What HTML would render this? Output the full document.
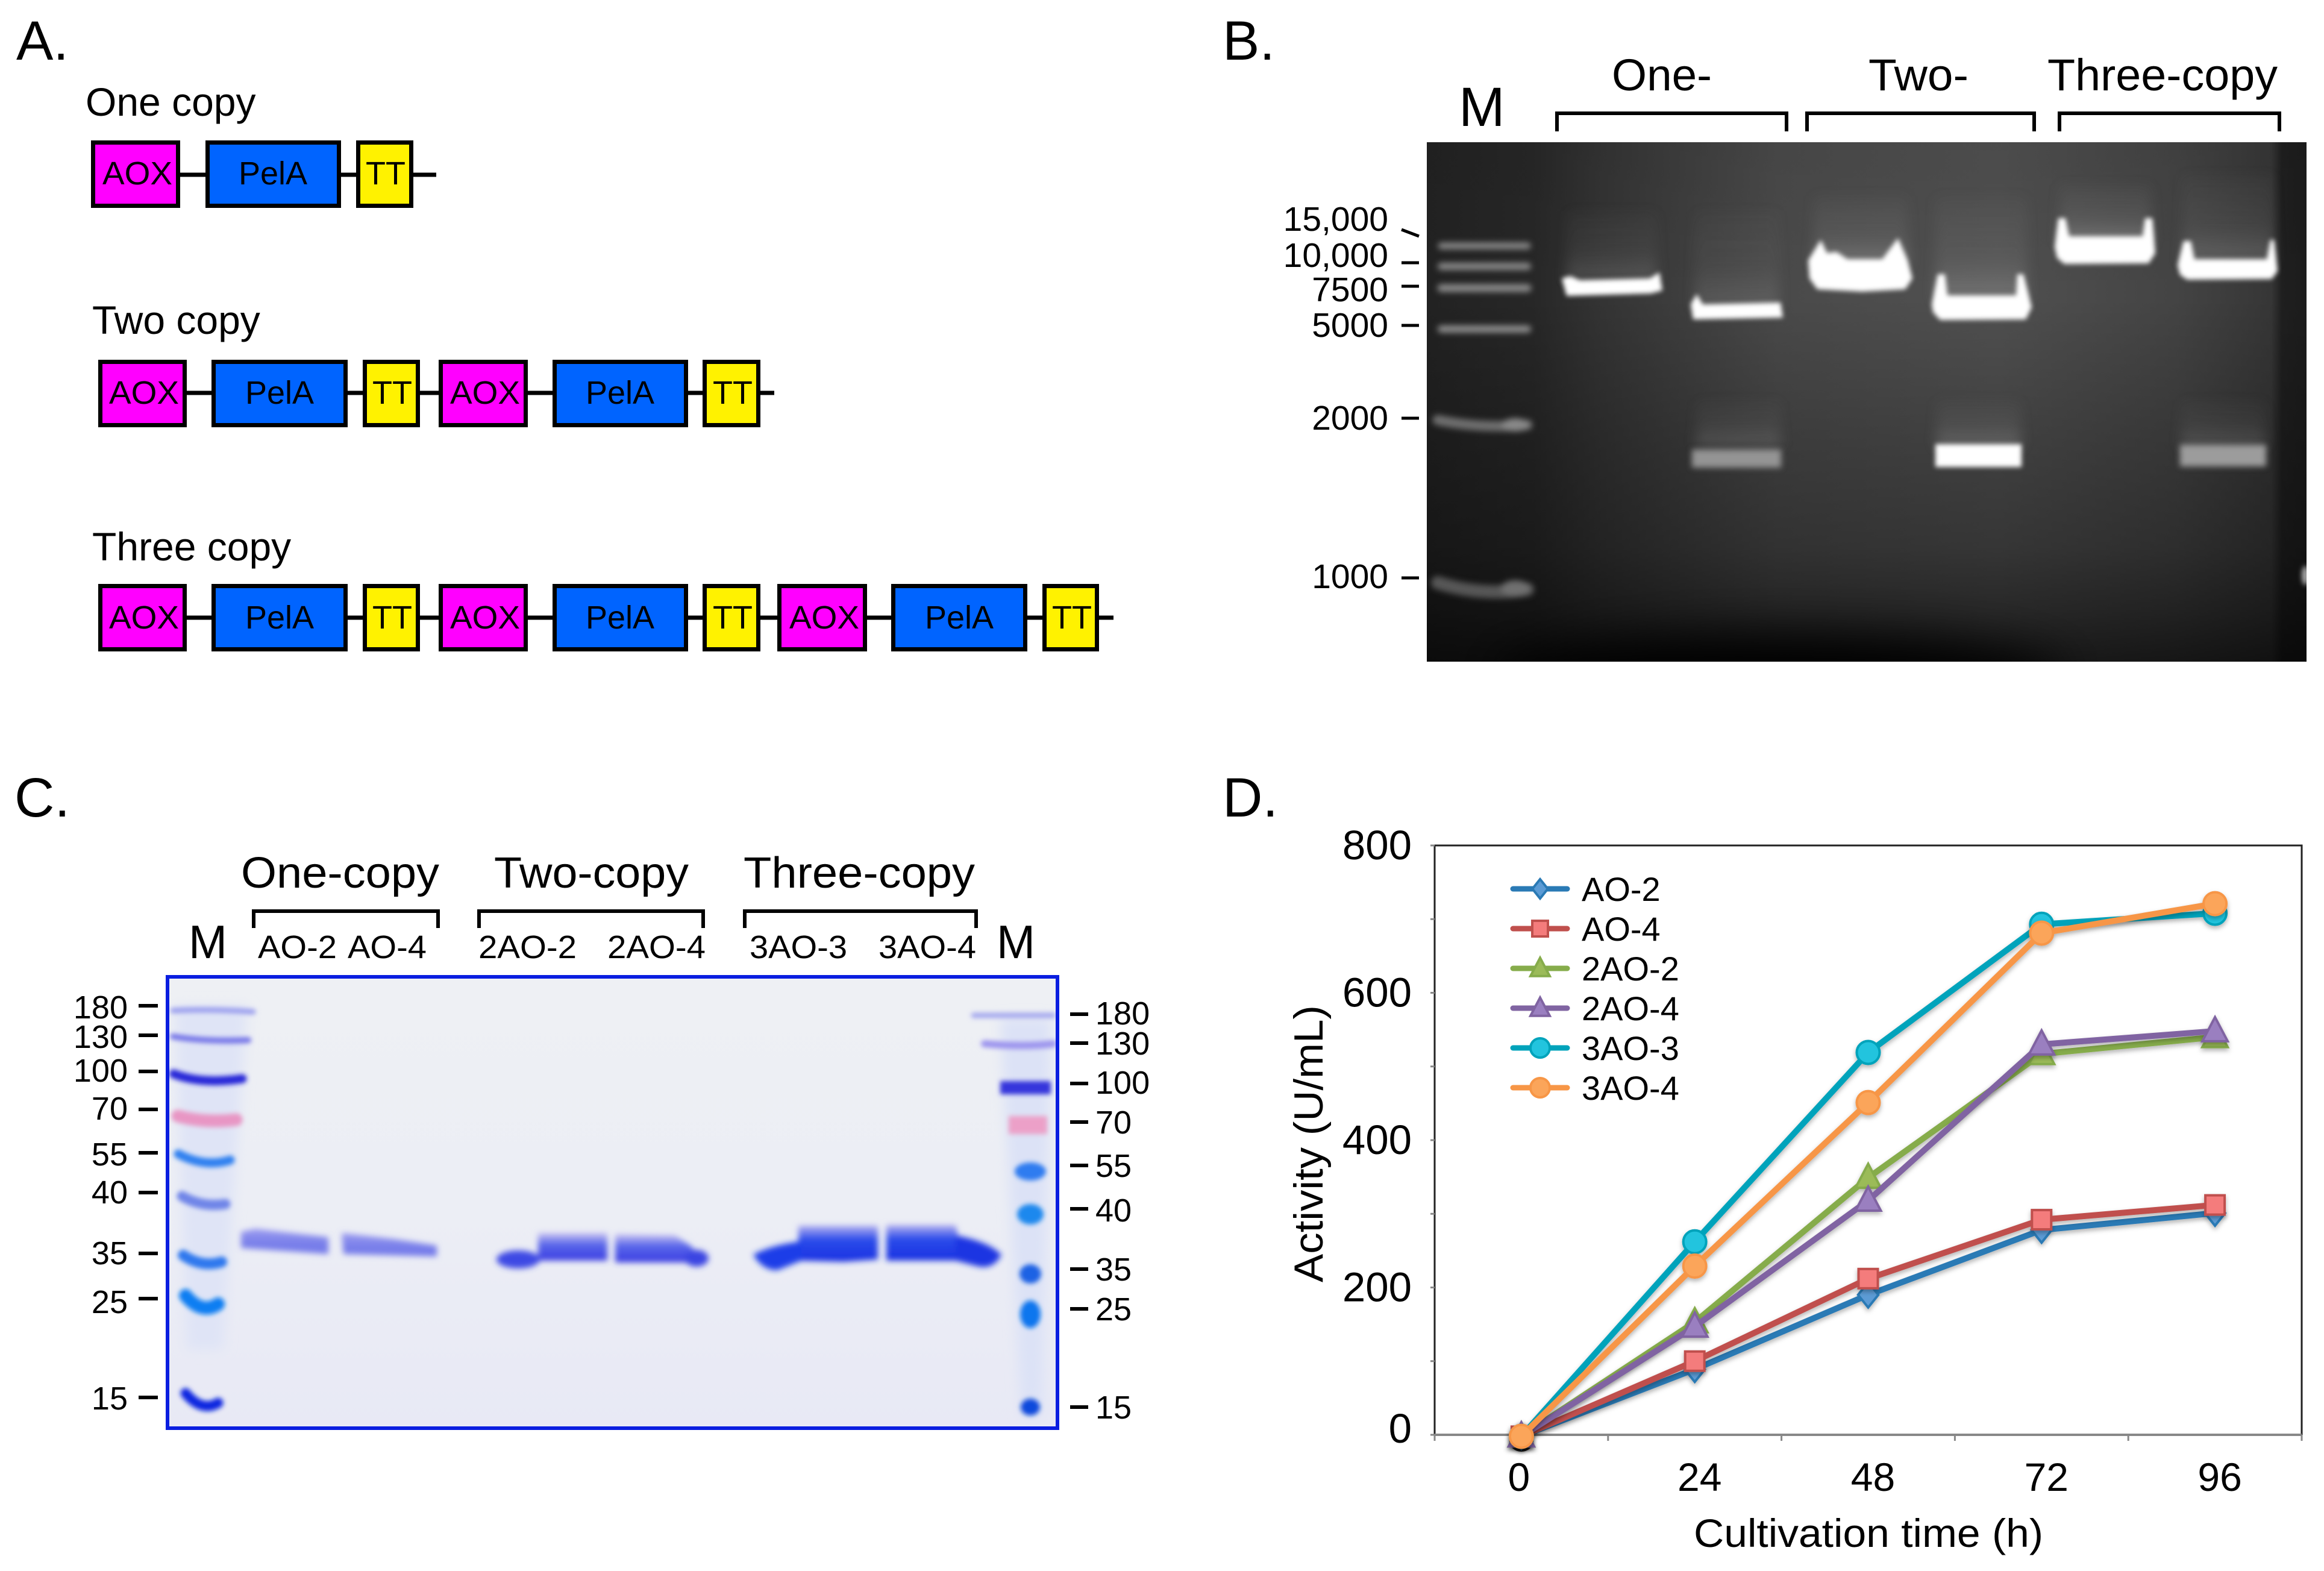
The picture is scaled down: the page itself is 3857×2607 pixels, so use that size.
<!DOCTYPE html>
<html lang="en">
<head>
<meta charset="utf-8">
<title>PelA copy number constructs, gels and activity</title>
<style>
html,body{margin:0;padding:0;background:#fff;width:3857px;height:2607px;overflow:hidden}
svg{display:block}
text{font-family:"Liberation Sans",Arial,sans-serif;fill:#000}
.blk{stroke:#000;stroke-width:7;fill:none}
.aox{fill:#ff00ff;stroke:#000;stroke-width:7}
.pel{fill:#0064ff;stroke:#000;stroke-width:7}
.tt{fill:#fff200;stroke:#000;stroke-width:7}
.c{font-size:54px;text-anchor:middle}
.pl{font-size:92px}
.t{font-size:66px}
.br{stroke:#000;stroke-width:6;fill:none}
.tk{stroke:#000;stroke-width:5;fill:none}
.tk2{stroke:#000;stroke-width:6;fill:none}
.gb{font-size:57px;text-anchor:end}
.cl{font-size:54px;text-anchor:end}
.cr{font-size:54px;text-anchor:start}
.lane{font-size:54px}
.lad{fill:none;stroke-linecap:round}
</style>
</head>
<body>
<svg id="fig" xmlns="http://www.w3.org/2000/svg" width="3857" height="2607" viewBox="0 0 3857 2607">
<defs>
  <linearGradient id="gelBh" x1="0" y1="0" x2="1" y2="0">
    <stop offset="0" stop-color="#222"/><stop offset=".12" stop-color="#272727"/>
    <stop offset=".2" stop-color="#343434"/><stop offset=".4" stop-color="#4a4a4a"/>
    <stop offset=".65" stop-color="#505050"/><stop offset=".85" stop-color="#444"/>
    <stop offset=".96" stop-color="#363636"/><stop offset=".972" stop-color="#1f1f1f"/>
    <stop offset="1" stop-color="#1c1c1c"/>
  </linearGradient>
  <linearGradient id="gelBv" x1="0" y1="0" x2="0" y2="1">
    <stop offset="0" stop-color="#000" stop-opacity=".06"/><stop offset=".3" stop-color="#000" stop-opacity="0"/>
    <stop offset=".55" stop-color="#000" stop-opacity=".18"/><stop offset=".78" stop-color="#000" stop-opacity=".33"/>
    <stop offset=".9" stop-color="#000" stop-opacity=".5"/><stop offset="1" stop-color="#000" stop-opacity=".68"/>
  </linearGradient>
  <linearGradient id="gelC" x1="0" y1="0" x2="0" y2="1">
    <stop offset="0" stop-color="#eef0f4"/><stop offset=".5" stop-color="#eceef5"/>
    <stop offset="1" stop-color="#e8e9f5"/>
  </linearGradient>
  <linearGradient id="smear" x1="0" y1="0" x2="0" y2="1">
    <stop offset="0" stop-color="#aaa" stop-opacity=".05"/><stop offset=".6" stop-color="#aaa" stop-opacity=".16"/>
    <stop offset="1" stop-color="#bbb" stop-opacity=".42"/>
  </linearGradient>
  <linearGradient id="bandLight" x1="0" y1="0" x2="0" y2="1">
    <stop offset="0" stop-color="#9c9cf0"/><stop offset=".5" stop-color="#7c82ea"/><stop offset="1" stop-color="#7076ea"/>
  </linearGradient>
  <linearGradient id="bandMid" x1="0" y1="0" x2="0" y2="1">
    <stop offset="0" stop-color="#cbc4f2"/><stop offset=".4" stop-color="#5a68ea"/><stop offset="1" stop-color="#3a3ce2"/>
  </linearGradient>
  <linearGradient id="bandDeep" x1="0" y1="0" x2="0" y2="1">
    <stop offset="0" stop-color="#b4b0f0"/><stop offset=".38" stop-color="#2a4cea"/><stop offset="1" stop-color="#1a30e2"/>
  </linearGradient>
  <filter id="b3" filterUnits="userSpaceOnUse" x="0" y="0" width="3857" height="2607"><feGaussianBlur stdDeviation="4"/></filter>
  <filter id="b5" filterUnits="userSpaceOnUse" x="0" y="0" width="3857" height="2607"><feGaussianBlur stdDeviation="5"/></filter>
  <filter id="b10" filterUnits="userSpaceOnUse" x="0" y="0" width="3857" height="2607"><feGaussianBlur stdDeviation="10"/></filter>
  <filter id="b40" filterUnits="userSpaceOnUse" x="0" y="0" width="3857" height="2607"><feGaussianBlur stdDeviation="40"/></filter>
  <filter id="sh" filterUnits="userSpaceOnUse" x="2300" y="1300" width="1557" height="1200"><feDropShadow dx="0" dy="4" stdDeviation="4" flood-color="#000" flood-opacity=".3"/></filter>
  <clipPath id="clipB"><rect x="2368" y="236" width="1460" height="862"/></clipPath>
  <clipPath id="clipC"><rect x="279" y="1622" width="1475" height="746"/></clipPath>
</defs>

<!-- Panel A -->
<g>
  <text x="27" y="99" class="pl">A.</text>
  <text x="142" y="192" class="t">One copy</text>
  <text x="153" y="554" class="t">Two copy</text>
  <text x="153" y="930" class="t">Three copy</text>

  <line x1="299" y1="290" x2="724" y2="290" class="blk"/>
  <g><rect x="154.500" y="236.500" width="141" height="105" class="aox"/><text x="228" y="306" class="c" textLength="116" lengthAdjust="spacingAndGlyphs">AOX</text></g>
  <g><rect x="344.500" y="236.500" width="218" height="105" class="pel"/><text x="453" y="306" class="c">PelA</text></g>
  <g><rect x="594.500" y="236.500" width="88" height="105" class="tt"/><text x="640" y="306" class="c">TT</text></g>

  <line x1="310" y1="652" x2="1285" y2="652" class="blk"/>
  <g><rect x="166.500" y="600.500" width="140" height="105" class="aox"/><text x="239" y="670" class="c" textLength="116" lengthAdjust="spacingAndGlyphs">AOX</text></g>
  <g><rect x="354.500" y="600.500" width="219" height="105" class="pel"/><text x="464" y="670" class="c">PelA</text></g>
  <g><rect x="605.500" y="600.500" width="88" height="105" class="tt"/><text x="651" y="670" class="c">TT</text></g>
  <g><rect x="731.500" y="600.500" width="141" height="105" class="aox"/><text x="805" y="670" class="c" textLength="116" lengthAdjust="spacingAndGlyphs">AOX</text></g>
  <g><rect x="920.500" y="600.500" width="218" height="105" class="pel"/><text x="1029" y="670" class="c">PelA</text></g>
  <g><rect x="1169.500" y="600.500" width="89" height="105" class="tt"/><text x="1216" y="670" class="c">TT</text></g>

  <line x1="310" y1="1025" x2="1848" y2="1025" class="blk"/>
  <g><rect x="166.500" y="972.500" width="140" height="105" class="aox"/><text x="239" y="1043" class="c" textLength="116" lengthAdjust="spacingAndGlyphs">AOX</text></g>
  <g><rect x="354.500" y="972.500" width="219" height="105" class="pel"/><text x="464" y="1043" class="c">PelA</text></g>
  <g><rect x="605.500" y="972.500" width="88" height="105" class="tt"/><text x="651" y="1043" class="c">TT</text></g>
  <g><rect x="731.500" y="972.500" width="141" height="105" class="aox"/><text x="805" y="1043" class="c" textLength="116" lengthAdjust="spacingAndGlyphs">AOX</text></g>
  <g><rect x="920.500" y="972.500" width="218" height="105" class="pel"/><text x="1029" y="1043" class="c">PelA</text></g>
  <g><rect x="1169.500" y="972.500" width="89" height="105" class="tt"/><text x="1216" y="1043" class="c">TT</text></g>
  <g><rect x="1293.500" y="972.500" width="142" height="105" class="aox"/><text x="1368" y="1043" class="c" textLength="116" lengthAdjust="spacingAndGlyphs">AOX</text></g>
  <g><rect x="1482.500" y="972.500" width="219" height="105" class="pel"/><text x="1592" y="1043" class="c">PelA</text></g>
  <g><rect x="1733.500" y="972.500" width="87" height="105" class="tt"/><text x="1779" y="1043" class="c">TT</text></g>
</g>

<!-- Panel B -->
<g>
  <text x="2029" y="99" class="pl">B.</text>
  <text x="2421" y="209" font-size="92">M</text>
  <text x="2675" y="150" font-size="74" textLength="166" lengthAdjust="spacingAndGlyphs">One-</text>
  <text x="3101" y="150" font-size="74" textLength="166" lengthAdjust="spacingAndGlyphs">Two-</text>
  <text x="3398" y="150" font-size="74" textLength="382" lengthAdjust="spacingAndGlyphs">Three-copy</text>
  <path d="M2584 218V188H2965V218" class="br"/>
  <path d="M2999 218V188H3376V218" class="br"/>
  <path d="M3418 218V188H3783V218" class="br"/>

  <text x="2304" y="383" class="gb">15,000</text>
  <text x="2304" y="443" class="gb">10,000</text>
  <text x="2304" y="500" class="gb">7500</text>
  <text x="2304" y="559" class="gb">5000</text>
  <text x="2304" y="713" class="gb">2000</text>
  <text x="2304" y="976" class="gb">1000</text>
  <g class="tk">
    <line x1="2326" y1="381" x2="2355" y2="392"/>
    <line x1="2326" y1="436" x2="2355" y2="436"/>
    <line x1="2326" y1="475" x2="2355" y2="475"/>
    <line x1="2326" y1="540" x2="2355" y2="540"/>
    <line x1="2326" y1="694" x2="2355" y2="694"/>
    <line x1="2326" y1="959" x2="2355" y2="959"/>
  </g>

  <g clip-path="url(#clipB)">
    <rect x="2368" y="236" width="1460" height="862" fill="url(#gelBh)"/>
    <rect x="2368" y="236" width="1460" height="862" fill="url(#gelBv)"/>
    <ellipse cx="2950" cy="1125" rx="480" ry="70" fill="#000" filter="url(#b40)"/>
    <g filter="url(#b5)">
      <path d="M2392 408H2535" class="lad" stroke="#888" stroke-width="11"/>
      <path d="M2392 442H2535" class="lad" stroke="#888" stroke-width="12"/>
      <path d="M2392 478H2535" class="lad" stroke="#888" stroke-width="13"/>
      <path d="M2392 546H2535" class="lad" stroke="#8c8c8c" stroke-width="12"/>
      <path d="M2386 697Q2460 712 2535 705" class="lad" stroke="#6e6e6e" stroke-width="17"/>
      <path d="M2386 967Q2460 990 2535 978" class="lad" stroke="#565656" stroke-width="22"/>
      <ellipse cx="2515" cy="705" rx="22" ry="11" fill="#888"/>
      <ellipse cx="2515" cy="976" rx="24" ry="13" fill="#707070"/>
    </g>
    <g filter="url(#b10)">
      <rect x="2600" y="350" width="150" height="115" fill="url(#smear)" opacity=".55"/>
      <rect x="2812" y="350" width="140" height="160" fill="url(#smear)" opacity=".5"/>
      <rect x="3010" y="325" width="156" height="115" fill="url(#smear)" opacity=".9"/>
      <rect x="3212" y="327" width="152" height="170" fill="url(#smear)" opacity=".8"/>
      <rect x="3418" y="307" width="152" height="95" fill="url(#smear)" opacity="1"/>
      <rect x="3622" y="290" width="152" height="145" fill="url(#smear)" opacity=".7"/>
      <rect x="2815" y="665" width="140" height="75" fill="url(#smear)" opacity=".6"/>
      <rect x="3214" y="665" width="140" height="75" fill="url(#smear)" opacity=".8"/>
      <rect x="3620" y="665" width="140" height="75" fill="url(#smear)" opacity=".6"/>
    </g>
    <g filter="url(#b3)">
      <path d="M2592 462L2606 458L2622 465L2738 462L2754 452L2759 482L2740 487L2600 491Z" fill="#fff"/>
      <path d="M2806 505L2816 488L2826 505L2955 502L2959 527L2810 530Z" fill="#fff"/>
      <path d="M3001 432L3022 398L3032 420L3048 418L3066 430L3124 430L3150 395L3166 432L3174 462L3162 480L3090 484L3016 480L3003 462Z" fill="#fff"/>
      <path d="M3206 505L3216 455L3228 455L3232 490L3346 490L3348 455L3358 455L3372 510L3362 530L3220 531L3208 518Z" fill="#fff"/>
      <path d="M3410 410L3416 362L3428 362L3434 392L3556 392L3560 362L3572 362L3577 420L3566 437L3426 438L3414 428Z" fill="#fff"/>
      <path d="M3614 440L3624 400L3636 400L3642 430L3762 430L3768 398L3774 398L3780 450L3770 463L3630 464L3618 456Z" fill="#fff"/>
      <rect x="3212" y="737" width="143" height="38" fill="#fff"/>
    </g>
    <g filter="url(#b5)">
      <rect x="2808" y="746" width="148" height="30" fill="#949494"/>
      <rect x="3618" y="738" width="143" height="36" fill="#9c9c9c"/>
    </g>
    <ellipse cx="3826" cy="955" rx="6" ry="16" fill="#aaa" filter="url(#b3)"/>
  </g>
</g>

<!-- Panel C -->
<g>
  <text x="24" y="1355" class="pl">C.</text>
  <text x="400" y="1473" font-size="72" textLength="329" lengthAdjust="spacingAndGlyphs">One-copy</text>
  <text x="820" y="1473" font-size="72" textLength="323" lengthAdjust="spacingAndGlyphs">Two-copy</text>
  <text x="1234" y="1473" font-size="72" textLength="384" lengthAdjust="spacingAndGlyphs">Three-copy</text>
  <path d="M421 1540V1512H727V1540" class="br"/>
  <path d="M795 1540V1512H1167V1540" class="br"/>
  <path d="M1236 1540V1512H1620V1540" class="br"/>
  <text x="313" y="1590" font-size="78" textLength="64" lengthAdjust="spacingAndGlyphs">M</text>
  <text x="1654" y="1590" font-size="78" textLength="64" lengthAdjust="spacingAndGlyphs">M</text>
  <text x="428" y="1590" class="lane" textLength="131" lengthAdjust="spacingAndGlyphs">AO-2</text>
  <text x="577" y="1590" class="lane" textLength="131" lengthAdjust="spacingAndGlyphs">AO-4</text>
  <text x="794" y="1590" class="lane" textLength="163" lengthAdjust="spacingAndGlyphs">2AO-2</text>
  <text x="1008" y="1590" class="lane" textLength="163" lengthAdjust="spacingAndGlyphs">2AO-4</text>
  <text x="1244" y="1590" class="lane" textLength="162" lengthAdjust="spacingAndGlyphs">3AO-3</text>
  <text x="1458" y="1590" class="lane" textLength="162" lengthAdjust="spacingAndGlyphs">3AO-4</text>

  <g clip-path="url(#clipC)">
    <rect x="276" y="1619" width="1481" height="753" fill="url(#gelC)"/>
    <g filter="url(#b10)">
      <path d="M290 1670H410L370 2240H310Z" fill="#dfe4f6"/>
      <path d="M1660 1690H1745L1730 2350H1695Z" fill="#dce2f6"/>
    </g>
    <g filter="url(#b3)">
      <path d="M287 1677Q350 1674 420 1679" class="lad" stroke="#9a9eee" stroke-width="9"/>
      <path d="M287 1720Q340 1729 412 1726" class="lad" stroke="#7676e8" stroke-width="10"/>
      <path d="M288 1782Q335 1800 402 1790" class="lad" stroke="#2828d8" stroke-width="15"/>
      <path d="M295 1852Q340 1864 392 1858" class="lad" stroke="#e896c4" stroke-width="21"/>
      <path d="M296 1915Q340 1938 382 1925" class="lad" stroke="#2e80f0" stroke-width="15"/>
      <path d="M302 1985Q335 2004 374 1998" class="lad" stroke="#6f85e8" stroke-width="17"/>
      <path d="M304 2083Q335 2104 368 2094" class="lad" stroke="#2f78ee" stroke-width="18"/>
      <path d="M308 2150Q335 2182 362 2164" class="lad" stroke="#0c7ef2" stroke-width="22"/>
      <path d="M308 2312Q335 2344 362 2328" class="lad" stroke="#0a28e0" stroke-width="17"/>
    </g>
    <g filter="url(#b3)">
      <path d="M1616 1685H1748" class="lad" stroke="#a4a8ee" stroke-width="9"/>
      <path d="M1634 1732Q1700 1738 1748 1732" class="lad" stroke="#9c94ee" stroke-width="12"/>
      <rect x="1660" y="1794" width="84" height="22" fill="#3434dc"/>
      <rect x="1674" y="1852" width="64" height="30" fill="#eca0c8"/>
      <ellipse cx="1710" cy="1944" rx="26" ry="15" fill="#2f7cf0"/>
      <ellipse cx="1710" cy="2015" rx="22" ry="17" fill="#1c88ee"/>
      <ellipse cx="1710" cy="2114" rx="18" ry="16" fill="#1a62e4"/>
      <ellipse cx="1710" cy="2181" rx="17" ry="23" fill="#0c76ee"/>
      <ellipse cx="1710" cy="2335" rx="16" ry="14" fill="#0f48dc"/>
    </g>
    <g filter="url(#b5)">
      <path d="M400 2044L424 2039L545 2053L545 2081L400 2071Z" fill="url(#bandLight)"/>
      <path d="M567 2046L654 2056L725 2067L725 2085L570 2081Z" fill="url(#bandLight)"/>
      <path d="M893 2046L1008 2046L1008 2092L893 2092Z" fill="url(#bandMid)"/>
      <path d="M1021 2048L1120 2050L1150 2070L1150 2095L1021 2095Z" fill="url(#bandMid)"/>
      <path d="M1325 2034L1457 2034L1457 2090L1400 2094L1325 2092Z" fill="url(#bandDeep)"/>
      <path d="M1471 2033L1586 2033L1600 2092L1471 2092Z" fill="url(#bandDeep)"/>
      <ellipse cx="860" cy="2090" rx="36" ry="15" fill="#3e48e4"/>
      <ellipse cx="1156" cy="2088" rx="20" ry="14" fill="#3a44e2"/>
      <path d="M1250 2082Q1280 2066 1330 2060L1330 2092L1290 2108Q1265 2108 1250 2082Z" fill="#1a3ee8"/>
      <path d="M1586 2050Q1640 2060 1662 2082Q1650 2106 1625 2102L1586 2092Z" fill="#1c36e2"/>
    </g>
  </g>
  <rect x="278" y="1621" width="1477" height="749" fill="none" stroke="#0a1ee0" stroke-width="6"/>

  <g>
    <text x="212" y="1690" class="cl">180</text>
    <text x="212" y="1739" class="cl">130</text>
    <text x="212" y="1795" class="cl">100</text>
    <text x="212" y="1858" class="cl">70</text>
    <text x="212" y="1934" class="cl">55</text>
    <text x="212" y="1997" class="cl">40</text>
    <text x="212" y="2098" class="cl">35</text>
    <text x="212" y="2179" class="cl">25</text>
    <text x="212" y="2339" class="cl">15</text>
  </g>
  <g class="tk2">
    <line x1="230" y1="1669" x2="262" y2="1669"/><line x1="230" y1="1718" x2="262" y2="1718"/>
    <line x1="230" y1="1778" x2="262" y2="1778"/><line x1="230" y1="1841" x2="262" y2="1841"/>
    <line x1="230" y1="1913" x2="262" y2="1913"/><line x1="230" y1="1979" x2="262" y2="1979"/>
    <line x1="230" y1="2080" x2="262" y2="2080"/><line x1="230" y1="2155" x2="262" y2="2155"/>
    <line x1="230" y1="2319" x2="262" y2="2319"/>
  </g>
  <g>
    <text x="1818" y="1700" class="cr">180</text>
    <text x="1818" y="1750" class="cr">130</text>
    <text x="1818" y="1815" class="cr">100</text>
    <text x="1818" y="1881" class="cr">70</text>
    <text x="1818" y="1953" class="cr">55</text>
    <text x="1818" y="2027" class="cr">40</text>
    <text x="1818" y="2125" class="cr">35</text>
    <text x="1818" y="2191" class="cr">25</text>
    <text x="1818" y="2354" class="cr">15</text>
  </g>
  <g class="tk2">
    <line x1="1776" y1="1683" x2="1806" y2="1683"/><line x1="1776" y1="1731" x2="1806" y2="1731"/>
    <line x1="1776" y1="1798" x2="1806" y2="1798"/><line x1="1776" y1="1862" x2="1806" y2="1862"/>
    <line x1="1776" y1="1934" x2="1806" y2="1934"/><line x1="1776" y1="2006" x2="1806" y2="2006"/>
    <line x1="1776" y1="2106" x2="1806" y2="2106"/><line x1="1776" y1="2172" x2="1806" y2="2172"/>
    <line x1="1776" y1="2335" x2="1806" y2="2335"/>
  </g>
</g>

<!-- Panel D -->
<g id="panelD">
  <text x="2029" y="1355" class="pl">D.</text>
  <rect x="2381" y="1403" width="1439" height="978" fill="#fff" stroke="#222" stroke-width="3"/>
  <line x1="2381" y1="2381" x2="3820" y2="2381" stroke="#888" stroke-width="4"/>
  <text x="3101" y="2567" font-size="66" text-anchor="middle" textLength="580" lengthAdjust="spacingAndGlyphs">Cultivation time (h)</text>
  <text transform="translate(2195,2128) rotate(-90)" font-size="68" textLength="460" lengthAdjust="spacingAndGlyphs">Activity (U/mL)</text>
  <g id="chartAxes"></g>
  <g id="chartSeries"></g>
  <g id="chartLegend"></g>
</g>
</svg>

<script>
const categories = ["0", "24", "48", "72", "96"];
const yTickValues = [0, 200, 400, 600, 800];
const seriesNames = ["AO-2", "AO-4", "2AO-2", "2AO-4", "3AO-3", "3AO-4"];
const ao2Values = [-2, 89, 190, 278, 301];
const ao4Values = [-2, 100, 212, 292, 312];
const twoAo2Values = [-2, 153, 349, 517, 540];
const twoAo4Values = [-2, 147, 318, 530, 548];
const threeAo3Values = [-2, 262, 519, 693, 708];
const threeAo4Values = [-2, 229, 451, 681, 721];

const NS = 'http://www.w3.org/2000/svg';
const plotLeft = 2381, plotRight = 3820, plotTop = 1403, plotBottom = 2381, yMax = 800;
function xPos(i) { return plotLeft + (plotRight - plotLeft) * (i + 0.5) / categories.length; }
function yPos(v) { return plotBottom - (plotBottom - plotTop) * v / yMax; }
function mk(tag, attrs) {
  const el = document.createElementNS(NS, tag);
  for (const k in attrs) el.setAttribute(k, attrs[k]);
  return el;
}
function drawMarker(parent, shape, cx, cy, r, fill, stroke) {
  let m;
  if (shape === 'diamond') {
    m = mk('path', { d: `M${cx} ${cy - r}L${cx + r * 0.8} ${cy}L${cx} ${cy + r}L${cx - r * 0.8} ${cy}Z` });
  } else if (shape === 'square') {
    m = mk('rect', { x: cx - r, y: cy - r, width: 2 * r, height: 2 * r });
  } else if (shape === 'triangle') {
    m = mk('path', { d: `M${cx} ${cy - r * 1.1}L${cx + r} ${cy + r * 0.8}L${cx - r} ${cy + r * 0.8}Z` });
  } else {
    m = mk('circle', { cx: cx, cy: cy, r: r });
  }
  m.setAttribute('fill', fill);
  m.setAttribute('stroke', stroke);
  m.setAttribute('stroke-width', 4);
  
  
  parent.appendChild(m);
}

const axes = document.getElementById('chartAxes');
yTickValues.forEach(function (v) {
  const label = mk('text', { x: 2343, y: yPos(v) + (v === 0 ? 13 : 23), 'font-size': 69, 'text-anchor': 'end' });
  label.textContent = String(v);
  
  
  axes.appendChild(label);
});
for (let v = 0; v <= yMax; v += 100) {
  const tick = mk('line', { x1: plotLeft - 7, x2: plotLeft, y1: yPos(v), y2: yPos(v), stroke: '#888', 'stroke-width': 3 });
  
  
  axes.appendChild(tick);
}
categories.forEach(function (c, i) {
  const label = mk('text', { x: xPos(i) + (i === 0 ? -4 : 8), y: 2474, 'font-size': 66, 'text-anchor': 'middle' });
  label.textContent = c;
  
  
  axes.appendChild(label);
});
for (let i = 0; i <= categories.length; i++) {
  const tx = plotLeft + (plotRight - plotLeft) * i / categories.length;
  const tick = mk('line', { x1: tx, x2: tx, y1: plotBottom, y2: plotBottom + 10, stroke: '#888', 'stroke-width': 3 });
  
  
  axes.appendChild(tick);
}

const seriesValues = [ao2Values, ao4Values, twoAo2Values, twoAo4Values, threeAo3Values, threeAo4Values];
const lineColors = ['#2a7ab5', '#c0504d', '#86ac4b', '#8064a2', '#00a3bb', '#f79646'];
const fillColors = ['#5b9bd5', '#f47c7c', '#9bbb59', '#9a7fc0', '#22c4de', '#fba55a'];
const shapes = ['diamond', 'square', 'triangle', 'triangle', 'circle', 'circle'];

const seriesRoot = document.getElementById('chartSeries');
const origin = mk('ellipse', { cx: xPos(0), cy: yPos(0) + 10, rx: 20, ry: 18, fill: '#222' });


seriesRoot.appendChild(origin);
seriesValues.forEach(function (vals, s) {
  const g = mk('g', { filter: 'url(#sh)' });
  
  
  const pts = vals.map(function (v, i) { return xPos(i) + ',' + yPos(v); }).join(' ');
  const line = mk('polyline', { points: pts, fill: 'none', stroke: lineColors[s], 'stroke-width': 10, 'stroke-linejoin': 'round' });
  
  
  g.appendChild(line);
  vals.forEach(function (v, i) {
    const r = shapes[s] === 'square' ? 16 : (shapes[s] === 'circle' ? 19 : 21);
    drawMarker(g, shapes[s], xPos(i), yPos(v), r, fillColors[s], lineColors[s]);
  });
  seriesRoot.appendChild(g);
});

const legend = document.getElementById('chartLegend');
seriesNames.forEach(function (name, s) {
  const ly = 1475 + s * 66;
  const g = mk('g', {});
  
  
  const line = mk('line', { x1: 2511, x2: 2601, y1: ly, y2: ly, stroke: lineColors[s], 'stroke-width': 9, 'stroke-linecap': 'round' });
  
  
  g.appendChild(line);
  drawMarker(g, shapes[s], 2556, ly, shapes[s] === 'square' ? 13 : 16, fillColors[s], lineColors[s]);
  const t = mk('text', { x: 2625, y: ly + 20, 'font-size': 56 });
  t.textContent = name;
  
  
  g.appendChild(t);
  legend.appendChild(g);
});
</script>
</body>
</html>
